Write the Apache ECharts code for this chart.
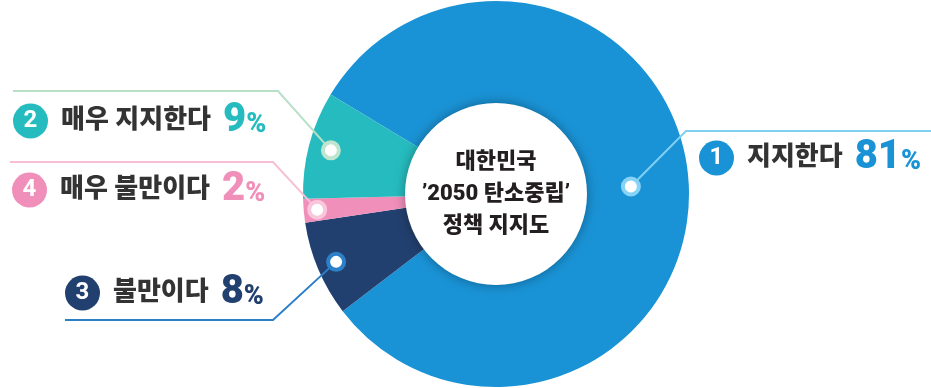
<!DOCTYPE html>
<html>
<head>
<meta charset="utf-8">
<script src="https://cdn.jsdelivr.net/npm/echarts@6/dist/echarts.min.js"></script>
<style>
  html, body { margin: 0; padding: 0; background: #fff; }
  #chart { width: 931px; height: 388px; }
</style>
</head>
<body>
<div id="chart"></div>
<script>
// 데이터 (파이 조각 순서: 시계방향)
const categories = ['지지한다', '불만이다', '매우 불만이다', '매우 지지한다'];
const values = [81, 8, 2, 9];
const badgeNumbers = ['1', '3', '4', '2'];
const centerLines = ['대한민국', '’2050 탄소중립’', '정책 지지도'];

// 스타일
const sliceColors = ['#1a93d6', '#22406f', '#f08fba', '#26bcbf'];
const ringColors = ['#86d3f6', '#2b80c8', '#f9c6dc', '#bfe4cf'];
const leaderColors = ['#7fd0f3', '#2b80c8', '#f6bfd5', '#b8dfc7'];
const dotRadius = [0.7, 0.9, 0.93, 0.885]; // 도넛 바깥 반지름 대비
const leaderLayout = [
  { labelX: 699, labelY: 158, elbowX: 686, lineY: 131, endX: 931 },
  { labelX: 65, labelY: 293, elbowX: 273, lineY: 320, endX: 65 },
  { labelX: 12, labelY: 190, elbowX: 273, lineY: 162, endX: 10 },
  { labelX: 13, labelY: 121, elbowX: 278, lineY: 91, endX: 13 }
];

const FONT = 'Roboto, "Noto Sans CJK KR", sans-serif';
const center = [496, 194];
const outerR = 193;

// 각 조각 중앙 각도 (누적 %)
let cum = 0;
const mids = values.map(v => { const m = cum + v / 2; cum += v; return m; });

const chart = echarts.init(document.getElementById('chart'));

chart.setOption({
  animation: false,
  polar: { center: center, radius: [0, outerR] },
  angleAxis: {
    type: 'value', min: 0, max: 100, startAngle: 149, clockwise: true,
    show: false
  },
  radiusAxis: { type: 'value', min: 0, max: 1, show: false },
  series: [
    // 도넛
    {
      type: 'pie',
      silent: true,
      center: center,
      radius: [88, outerR],
      startAngle: 149,
      clockwise: true,
      label: { show: false },
      labelLine: { show: false },
      data: values.map((v, i) => ({
        name: categories[i],
        value: v,
        itemStyle: { color: sliceColors[i] }
      }))
    },
    // 가운데 흰 원 + 제목
    {
      type: 'pie',
      silent: true,
      z: 3,
      center: center,
      radius: [0, 91],
      label: {
        show: true,
        position: 'center',
        formatter: centerLines.join('\n'),
        fontFamily: FONT,
        fontSize: 22,
        fontWeight: 900,
        lineHeight: 32,
        color: '#231f20'
      },
      itemStyle: {
        color: '#ffffff',
        shadowBlur: 12,
        shadowColor: 'rgba(0,0,0,0.35)'
      },
      data: [{ value: 1, name: 'center' }]
    },
    // 조각 위 점 + 라벨
    {
      type: 'scatter',
      coordinateSystem: 'polar',
      silent: true,
      z: 5,
      symbol: 'circle',
      symbolSize: 16,
      data: values.map((v, i) => ({
        value: [dotRadius[i], mids[i]],
        itemStyle: { color: '#ffffff', borderColor: ringColors[i], borderWidth: 4, opacity: 1 },
        label: {
          show: true,
          formatter: '{b|' + badgeNumbers[i] + '}{n|' + categories[i] + '}{v|' + v + '}{p|%}',
          rich: {
            b: {
              width: 35, height: 35, lineHeight: 35, borderRadius: 18,
              backgroundColor: sliceColors[i],
              color: '#fff', align: 'center',
              fontFamily: FONT, fontSize: 24, fontWeight: 'bold'
            },
            n: {
              padding: [0, 0, 0, 13],
              color: '#333333', fontFamily: FONT, fontSize: 26, fontWeight: 900
            },
            v: {
              padding: [0, 0, 0, 12],
              color: sliceColors[i], fontFamily: FONT, fontSize: 40, fontWeight: 900
            },
            p: {
              padding: [9, 0, 0, 0],
              color: sliceColors[i], fontFamily: FONT, fontSize: 27, fontWeight: 900
            }
          }
        },
        labelLine: { show: false }
      })),
      // 라벨 위치
      labelLayout: function (p) {
        const L = leaderLayout[p.dataIndex];
        return { x: L.labelX, y: L.labelY, align: 'left', verticalAlign: 'middle' };
      }
    }
  ]
});

// 지시선: 점 위치(극좌표 → 픽셀)에서 꺾여 라벨까지
const leaders = values.map((v, i) => {
  const L = leaderLayout[i];
  const pt = chart.convertToPixel({ seriesIndex: 2 }, [dotRadius[i], mids[i]]);
  return {
    type: 'polyline',
    silent: true,
    z: 4,
    shape: { points: [pt, [L.elbowX, L.lineY], [L.endX, L.lineY]] },
    style: { stroke: leaderColors[i], lineWidth: 2, fill: null }
  };
});
chart.setOption({ graphic: leaders });
</script>
</body>
</html>
